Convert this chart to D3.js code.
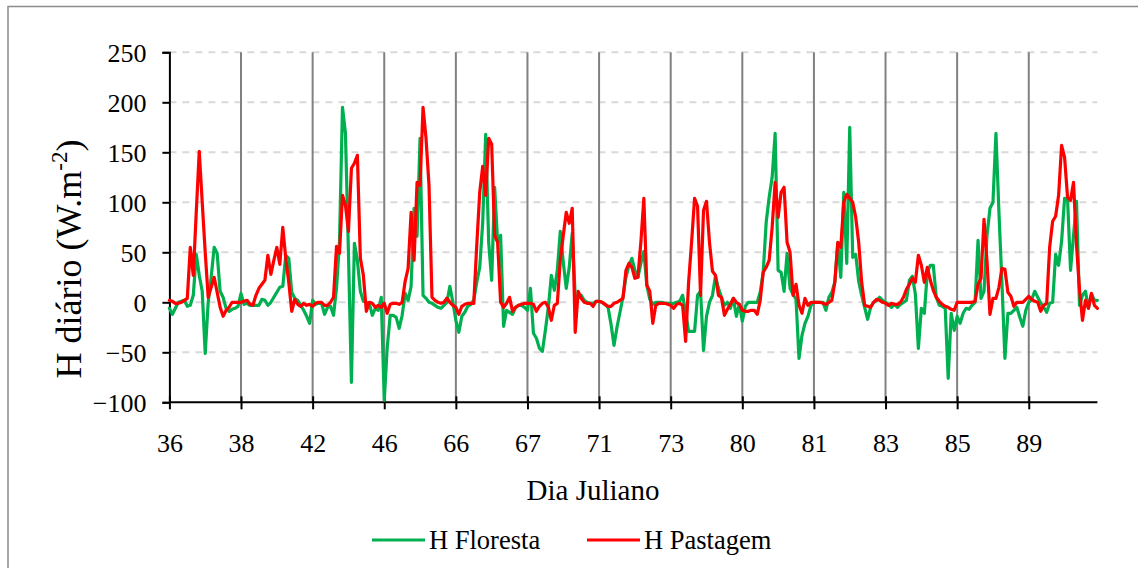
<!DOCTYPE html>
<html>
<head>
<meta charset="utf-8">
<script src="https://cdn.jsdelivr.net/npm/d3@7"></script>
<style>
  html, body { margin: 0; padding: 0; background: #fff; }
  svg { display: block; }
</style>
</head>
<body>
<svg id="chart" width="1138" height="568"></svg>
<script>
// Julian days shown on the category axis (24 hourly values per day)
const days = ["36", "38", "42", "46", "66", "67", "71", "73", "80", "81", "83", "85", "89"];
const yTicks = [-100, -50, 0, 50, 100, 150, 200, 250];
const seriesNames = ["H Floresta", "H Pastagem"];

// Hourly sensible heat flux over the forest (W.m-2)
const hFloresta = [
  -6, -12, -6, 0, 1, 2, -4, -3, 7, 48, 27, 11, -51, 0, 25, 55, 49, 11, 5, -6, -9, -7, -6, -4,
  9, -2, -1, -3, -3, -3, -3, 3, 2, -3, 0, 5, 10, 15, 16, 47, 44, 10, 4, 2, -3, -8, -14, -21,
  2, -2, -1, -1, -12, -5, -4, -13, 14, 60, 195, 169, 50, -80, 59, 42, 11, 1, 0, -1, -13, -6, -8, 5,
  -98, -45, -13, -13, -15, -26, -13, 9, 2, 16, 94, 66, 164, 7, 4, 0, -1, -3, -5, -6, -3, 0, 16, 0,
  -18, -30, -14, -10, -4, -2, 2, 20, 35, 80, 168, 60, 22, 115, 60, 67, -24, -8, -10, -12, -5, -3, -3, -5,
  -8, 14, -31, -36, -46, -49, -28, -5, 27, 12, 32, 71, 40, 14, 35, 69, 7, 5, 7, 2, 0, -1, -1, 1,
  1, 0, -2, -5, -22, -43, -25, -10, 5, 25, 37, 44, 32, 25, 39, 51, 17, 3, -2, 0, 0, 0, -1, -1,
  -1, -1, 0, 1, 7, -10, -29, -29, -29, 7, 11, -48, -14, 0, 7, 26, 14, 5, -3, 0, -6, 4, -14, -2,
  -19, -4, 0, 0, 0, 0, 10, 30, 80, 105, 125, 169, 32, 30, 11, 49, 14, 8, 3, -56, -33, -21, -14, -3,
  0, 0, 0, 0, -8, 5, 10, 20, 59, 25, 110, 39, 175, 45, 48, 21, 7, -5, -17, -5, 0, 2, 5, 2,
  0, -2, -5, -2, -5, -2, 0, 2, 22, 26, 8, -46, -6, -11, 30, 37, 37, 5, -3, -4, -6, -76, -11, -28,
  -14, -21, -11, -6, -7, -3, 0, 62, 4, 11, 67, 94, 100, 169, 90, 20, -56, -11, -11, -8, -5, -15, -24, -8,
  0, 3, 11, 5, -1, -5, -10, -1, 0, 48, 37, 61, 104, 103, 32, 67, 101, -3, 7, 11, -6, 8, 2, 2
];

// Hourly sensible heat flux over the pasture (W.m-2)
const hPastagem = [
  2, 1, -1, -1, 0, 2, 4, 55, 27, 90, 151, 100, 50, 5, 15, 25, 10, -5, -14, -8, -5, 0, 0, 0,
  0, 1, 2, -2, -3, 7, 14, 18, 22, 47, 28, 42, 55, 38, 75, 44, 20, -9, 3, -2, -4, -1, -3, -2,
  -4, -1, 0, 0, -3, -3, 0, 5, 56, 49, 107, 97, 71, 134, 139, 147, 44, 27, -9, 0, -1, -5, -3, -5,
  -1, -11, -2, -1, -1, -2, 0, 21, 34, 90, 42, 120, 117, 195, 164, 117, 5, 2, 0, -1, 0, 4, 0, -3,
  -5, -12, -4, -2, -1, -1, -1, 57, 110, 136, 107, 164, 158, 67, 60, 0, -5, -1, 5, -9, -5, -3, -2, -1,
  -1, -1, -2, -9, -4, -1, 0, -5, -18, -3, -1, 42, 67, 90, 79, 94, -30, 11, 4, 0, -1, -1, -4, 1,
  1, 0, -2, -4, -4, -1, 0, 2, 4, 32, 39, 35, 24, 25, 60, 104, 17, 11, -21, -3, -1, -1, -1, -2,
  -3, -6, -2, -1, -3, -39, 20, 60, 104, 96, 7, 92, 101, 60, 31, 27, 7, 5, -13, -7, -2, 4, 0, -2,
  -8, -9, -9, -8, -8, -12, 2, 30, 35, 42, 75, 120, 85, 110, 115, 60, 50, 7, 18, -3, -11, 4, -3, 0,
  0, 0, 0, -1, -2, 0, 2, 20, 60, 55, 100, 108, 104, 100, 85, 60, 20, -3, -4, -5, 0, 3, 2, 0,
  -1, -3, -1, -2, -2, 0, 5, 13, 18, 24, 20, 47, 37, 20, 35, 22, 12, 5, 1, -2, -4, -5, -7, -8,
  0, 0, 0, 0, 0, 0, 1, 18, 24, 83, 41, -12, 4, 4, 15, 34, 33, 10, 6, -4, 0, 0, 0, 3,
  6, 3, 1, 0, -9, -3, -1, 55, 81, 86, 107, 157, 145, 105, 102, 120, 57, 13, -18, 2, -6, 9, -3, -6
];

const colors = ["#00B050", "#FF0000"];
const hoursPerDay = 24;
const serif = '"Liberation Serif", "Times New Roman", serif';

const svg = d3.select("#chart");
const W = 1138, H = 568;
const plot = { left: 169.4, right: 1097.4, top: 52.3, bottom: 402.3 };

// Outer chart frame (right and bottom edges fall outside the page)
svg.append("rect")
  .attr("x", 8).attr("y", 6.5)
  .attr("width", W + 20).attr("height", H + 20)
  .attr("fill", "#fff").attr("stroke", "#8c8c8c").attr("stroke-width", 1.5);

const n = hFloresta.length;
const x = d3.scaleLinear().domain([0, n - 1]).range([plot.left, plot.right]);
const y = d3.scaleLinear().domain([-100, 250]).range([plot.bottom, plot.top]);

// Horizontal dashed gridlines
svg.append("g")
  .selectAll("line")
  .data(yTicks.filter(v => v !== -100))
  .join("line")
  .attr("x1", plot.left).attr("x2", plot.right)
  .attr("y1", d => y(d)).attr("y2", d => y(d))
  .attr("stroke", "#d9d9d9").attr("stroke-width", 2)
  .attr("stroke-dasharray", "7,6");

// Vertical separators between days
const dayIdx = days.map((d, i) => i * hoursPerDay);
svg.append("g")
  .selectAll("line")
  .data(dayIdx.filter(i => i > 0))
  .join("line")
  .attr("x1", d => x(d)).attr("x2", d => x(d))
  .attr("y1", plot.top).attr("y2", plot.bottom)
  .attr("stroke", "#808080").attr("stroke-width", 2);

// Y axis
const yAxis = d3.axisLeft(y).tickValues(yTicks).tickSize(7).tickPadding(16).tickFormat(d3.format("d"));
const gy = svg.append("g").attr("transform", `translate(${plot.left},0)`).call(yAxis)
  .attr("font-family", serif).attr("font-size", 26);
gy.select(".domain").attr("stroke", "#000").attr("stroke-width", 2);
gy.selectAll(".tick line").attr("stroke", "#000").attr("stroke-width", 2);
gy.selectAll(".tick text").attr("fill", "#000").attr("dy", "0.34em");

// X axis (category labels every 24 hours)
const xAxis = d3.axisBottom(x).tickValues(dayIdx).tickSize(7).tickPadding(24)
  .tickFormat((d, i) => days[i]);
const gx = svg.append("g").attr("transform", `translate(0,${plot.bottom})`).call(xAxis)
  .attr("font-family", serif).attr("font-size", 26);
gx.select(".domain").attr("stroke", "#000").attr("stroke-width", 2)
  .attr("d", `M${plot.left},0H${plot.right}`);
gx.selectAll(".tick line").attr("y1", -6).attr("stroke", "#000").attr("stroke-width", 2);
gx.selectAll(".tick text").attr("fill", "#000");

// Series lines
const line = d3.line().x((d, i) => x(i)).y(d => y(d)).curve(d3.curveLinear);
[hFloresta, hPastagem].forEach((s, k) => {
  svg.append("path")
    .datum(s)
    .attr("d", line)
    .attr("fill", "none")
    .attr("stroke", colors[k])
    .attr("stroke-width", 3.2)
    .attr("stroke-linejoin", "round")
    .attr("stroke-linecap", "round");
});

// Axis titles
const yTitle = svg.append("text")
  .attr("transform", `translate(81,259) rotate(-90)`)
  .attr("text-anchor", "middle")
  .attr("font-family", serif).attr("font-size", 36);
yTitle.append("tspan").text("H diário (W.m");
yTitle.append("tspan").attr("font-size", 23).attr("dy", -14).text("-2");
yTitle.append("tspan").attr("dy", 14).text(")");

svg.append("text")
  .attr("x", 593).attr("y", 500)
  .attr("text-anchor", "middle")
  .attr("font-family", serif).attr("font-size", 29)
  .text("Dia Juliano");

// Legend
const legendX = [372, 587];
seriesNames.forEach((name, k) => {
  const g = svg.append("g").attr("transform", `translate(${legendX[k]},540)`);
  g.append("line").attr("x1", 0).attr("x2", 53).attr("y1", 0).attr("y2", 0)
    .attr("stroke", colors[k]).attr("stroke-width", 3.2);
  g.append("text").attr("x", 57).attr("y", 9)
    .attr("font-family", serif).attr("font-size", 26.5).text(name);
});
</script>
</body>
</html>
